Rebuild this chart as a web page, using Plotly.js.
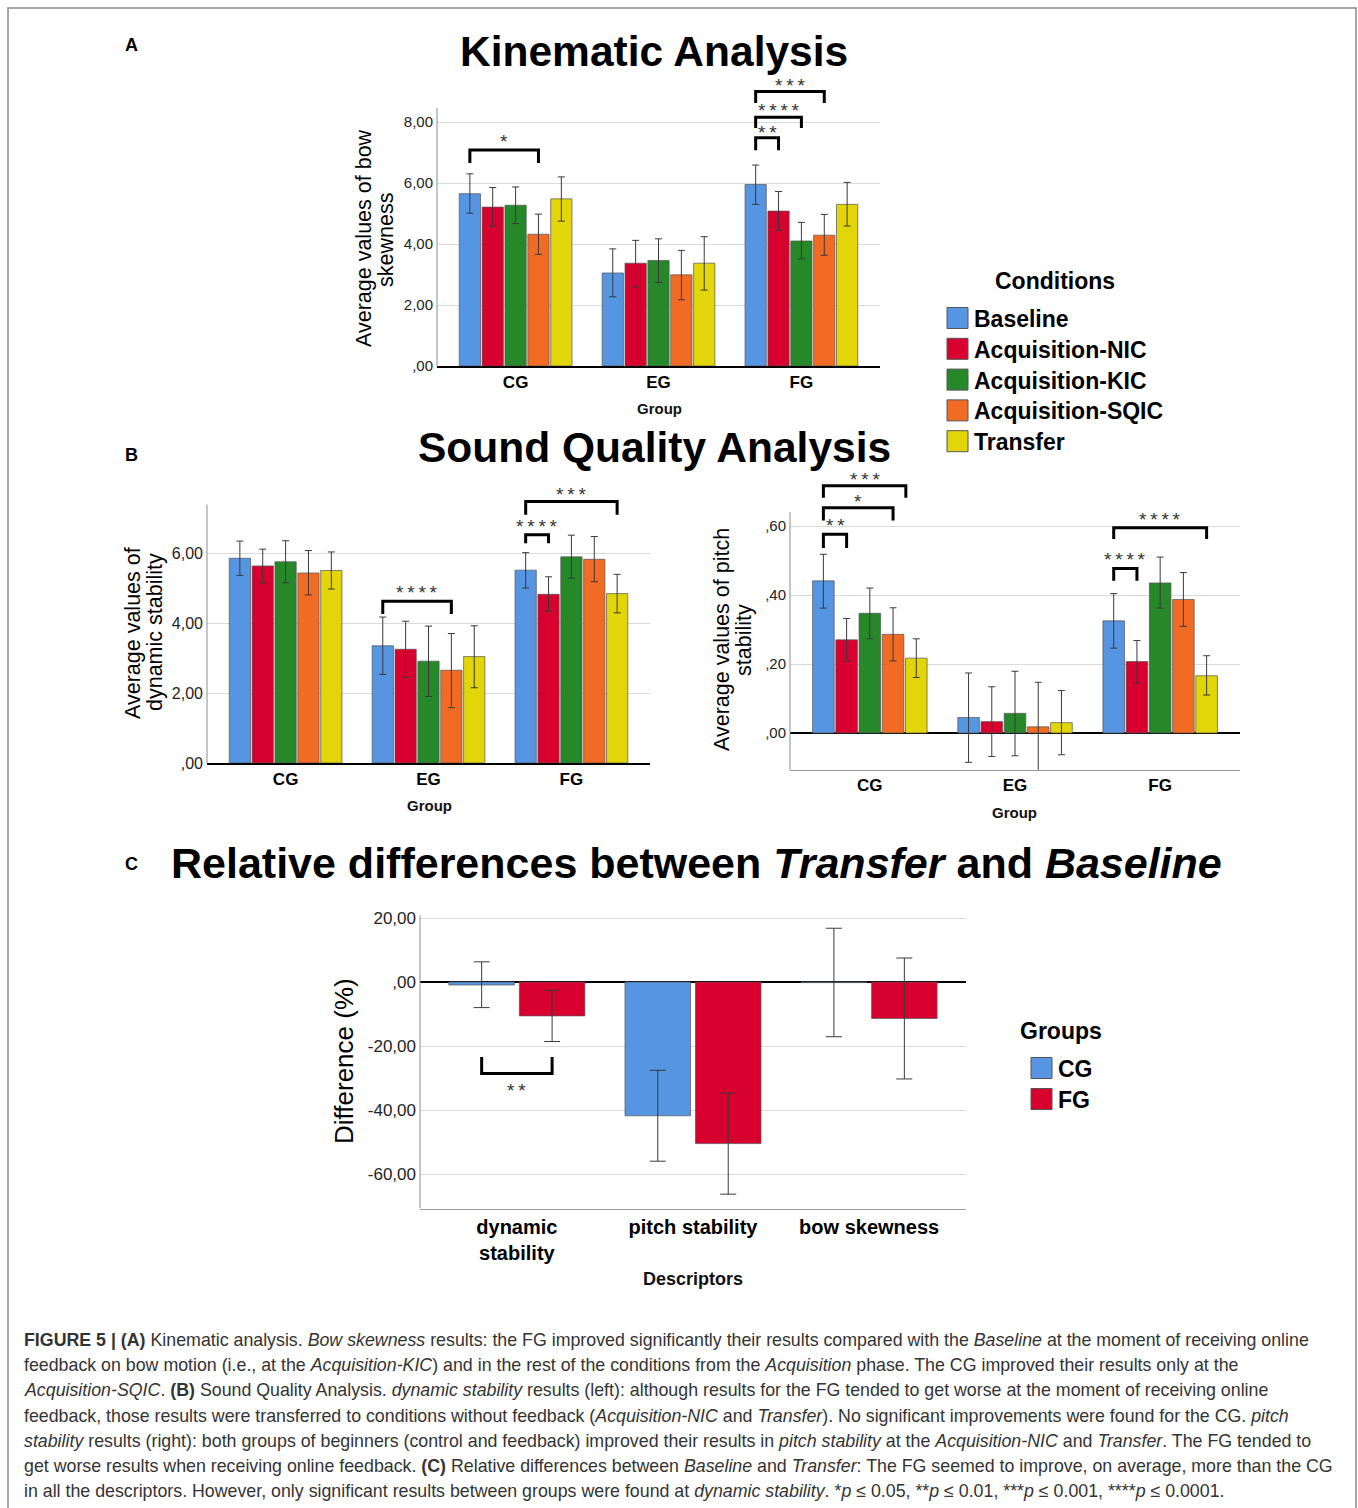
<!DOCTYPE html>
<html><head><meta charset="utf-8">
<script src="https://cdn.plot.ly/plotly-3.0.1.min.js"></script>
<style>html,body{margin:0;padding:0;background:#fff}</style>
</head><body><div id="chart" style="width:1358px;height:1508px"></div>
<script>
// ---------------- DATA ----------------
const groups = ['CG', 'EG', 'FG'];
const conditions = ['Baseline', 'Acquisition-NIC', 'Acquisition-KIC', 'Acquisition-SQIC', 'Transfer'];

// (A) bow skewness: rows = conditions, cols = groups
const bowMean = [[5.65, 3.05, 5.95], [5.21, 3.37, 5.08], [5.27, 3.46, 4.10], [4.32, 2.99, 4.29], [5.48, 3.37, 5.30]];
const bowHi   = [[6.30, 3.84, 6.59], [5.85, 4.12, 5.72], [5.87, 4.17, 4.71], [4.98, 3.79, 4.97], [6.20, 4.24, 6.02]];
const bowLo   = [[5.01, 2.27, 5.30], [4.58, 2.59, 4.45], [4.67, 2.74, 3.51], [3.66, 2.17, 3.63], [4.75, 2.49, 4.59]];
const bowTickVals = [0, 2, 4, 6, 8];
const bowTickText = [',00', '2,00', '4,00', '6,00', '8,00'];

// (B left) dynamic stability
const dynMean = [[5.85, 3.35, 5.51], [5.63, 3.25, 4.82], [5.75, 2.91, 5.89], [5.43, 2.65, 5.82], [5.50, 3.04, 4.84]];
const dynHi   = [[6.34, 4.17, 6.01], [6.11, 4.05, 5.32], [6.35, 3.91, 6.51], [6.07, 3.70, 6.47], [6.03, 3.92, 5.39]];
const dynLo   = [[5.36, 2.53, 5.00], [5.14, 2.45, 4.33], [5.15, 1.90, 5.28], [4.80, 1.58, 5.18], [4.97, 2.15, 4.29]];
const dynTickVals = [0, 2, 4, 6];
const dynTickText = [',00', '2,00', '4,00', '6,00'];

// (B right) pitch stability
const pitchMean = [[0.441, 0.045, 0.325], [0.270, 0.033, 0.207], [0.347, 0.057, 0.435], [0.286, 0.018, 0.387], [0.217, 0.030, 0.166]];
const pitchHi   = [[0.518, 0.174, 0.404], [0.332, 0.134, 0.268], [0.420, 0.179, 0.510], [0.363, 0.147, 0.465], [0.273, 0.123, 0.224]];
const pitchLo   = [[0.362, -0.085, 0.246], [0.209, -0.068, 0.145], [0.273, -0.066, 0.362], [0.209, -0.110, 0.309], [0.161, -0.063, 0.110]];
const pitchTickVals = [0, 0.2, 0.4, 0.6];
const pitchTickText = [',00', ',20', ',40', ',60'];

// (C) relative differences Transfer vs Baseline (%)
const descriptors = ['dynamic<br>stability', 'pitch stability', 'bow skewness'];
const diffGroups = ['CG', 'FG'];
const diffMean = [[-0.94, -41.8, -0.2], [-10.6, -50.5, -11.4]];
const diffHi   = [[6.3, -27.6, 16.8], [-2.6, -34.7, 7.5]];
const diffLo   = [[-8.0, -56.0, -17.1], [-18.6, -66.3, -30.3]];
const diffTickVals = [-60, -40, -20, 0, 20];
const diffTickText = ['-60,00', '-40,00', '-20,00', ',00', '20,00'];

// significance brackets: [group, fromCond, toCond, barValue, legValue, label, labelValue]
const sigA  = [[0, 0, 3, 7.08, 6.66, '*', 7.48], [2, 0, 1, 7.48, 7.07, '**', 7.78], [2, 0, 2, 8.16, 7.80, '****', 8.51], [2, 0, 3, 9.00, 8.62, '***', 9.33]];
const sigBL = [[1, 0, 3, 4.62, 4.26, '****', 4.99], [2, 0, 1, 6.52, 6.28, '****', 6.86], [2, 0, 4, 7.47, 7.09, '***', 7.79]];
const sigBR = [[0, 0, 1, 0.576, 0.536, '**', 0.612], [0, 0, 3, 0.653, 0.616, '*', 0.682], [0, 0, 3.55, 0.717, 0.682, '***', 0.746],
               [2, 0, 1, 0.477, 0.441, '****', 0.515], [2, 0, 4, 0.595, 0.562, '****', 0.631]];
const sigC  = [[0, 0, 1, -28.6, -23.4, '**', -32.6]];

const captionLines = [
  '<b>FIGURE 5 | (A)</b> Kinematic analysis. <i>Bow skewness</i> results: the FG improved significantly their results compared with the <i>Baseline</i> at the moment of receiving online',
  'feedback on bow motion (i.e., at the <i>Acquisition-KIC</i>) and in the rest of the conditions from the <i>Acquisition</i> phase. The CG improved their results only at the',
  '<i>Acquisition-SQIC</i>. <b>(B)</b> Sound Quality Analysis. <i>dynamic stability</i> results (left): although results for the FG tended to get worse at the moment of receiving online',
  'feedback, those results were transferred to conditions without feedback (<i>Acquisition-NIC</i> and <i>Transfer</i>). No significant improvements were found for the CG. <i>pitch</i>',
  '<i>stability</i> results (right): both groups of beginners (control and feedback) improved their results in <i>pitch stability</i> at the <i>Acquisition-NIC</i> and <i>Transfer</i>. The FG tended to',
  'get worse results when receiving online feedback. <b>(C)</b> Relative differences between <i>Baseline</i> and <i>Transfer</i>: The FG seemed to improve, on average, more than the CG',
  'in all the descriptors. However, only significant results between groups were found at <i>dynamic stability</i>. *<i>p</i> ≤ 0.05, **<i>p</i> ≤ 0.01, ***<i>p</i> ≤ 0.001, ****<i>p</i> ≤ 0.0001.'
];

// ---------------- STYLE ----------------
const condColors = ['#5595e2', '#d7002f', '#27882a', '#f16b25', '#e2d50a'];
const groupColors = ['#5595e2', '#d7002f'];
const FONT = '"Liberation Sans", Arial, sans-serif';
const W = 1358, H = 1508;
const BARGAP = 0.2, BARGROUPGAP = 0.07;
const px = x => x / W;
const py = y => 1 - y / H;

// panel geometry in pixels
const G = {
  A:  {l: 437, r: 880, zero: 366, ppu: 30.5, range: [0, 9.55], axisTop: 8.46},
  BL: {l: 207, r: 650, zero: 763, ppu: 35, range: [0, 8.0], axisTop: 7.38},
  BR: {l: 790, r: 1240, zero: 733, ppu: 345, range: [-0.107, 0.77], axisTop: 0.64},
  C:  {l: 420, r: 966, zero: 982, ppu: 3.2, range: [-70.8, 21], axisTop: 20.8}
};
function yDomain(g) {
  const top = g.zero - g.range[1] * g.ppu;
  const bot = g.zero - g.range[0] * g.ppu;
  return [py(bot), py(top)];
}

const traces = [];
function addBars(means, his, los, names, colors, xa, ya, capW) {
  means.forEach((m, k) => {
    traces.push({
      type: 'bar', name: names[k], x: m.map((_, i) => i), y: m,
      xaxis: xa, yaxis: ya,
      marker: {color: colors[k], line: {color: '#555', width: 0.7}},
      error_y: {type: 'data', symmetric: false,
                array: m.map((v, i) => his[k][i] - v),
                arrayminus: m.map((v, i) => v - los[k][i]),
                color: '#3a3a3a', thickness: 1, width: capW},
      showlegend: false, hoverinfo: 'skip'
    });
  });
}
addBars(bowMean, bowHi, bowLo, conditions, condColors, 'x', 'y', 3.5);
addBars(dynMean, dynHi, dynLo, conditions, condColors, 'x2', 'y2', 3.5);
addBars(pitchMean, pitchHi, pitchLo, conditions, condColors, 'x3', 'y3', 3.5);
addBars(diffMean, diffHi, diffLo, diffGroups, groupColors, 'x4', 'y4', 8);

function xAxis(g, anchor, ticktext, size, lineColor, lineWidth) {
  return {domain: [px(g.l), px(g.r)], range: [-0.55, 2.55], anchor: anchor,
          tickvals: [0, 1, 2], ticktext: ticktext, ticks: '', showgrid: false, zeroline: false,
          showline: true, linecolor: lineColor, linewidth: lineWidth,
          tickfont: {size: size, weight: 'bold', color: '#000'}, fixedrange: true};
}
function yAxis(g, anchor, vals, text, size, zl) {
  return {domain: yDomain(g), range: g.range, anchor: anchor,
          tickvals: vals, ticktext: text, ticks: '', showline: false,
          showgrid: true, gridcolor: '#d9d9d9', gridwidth: 1, ticklabelstandoff: 3,
          zeroline: zl, zerolinecolor: '#000', zerolinewidth: 2,
          tickfont: {size: size, color: '#222'}, fixedrange: true};
}

const shapes = [];
const annotations = [];

// frame
shapes.push({type: 'path', xref: 'paper', yref: 'paper',
  path: `M ${px(8)},${py(1508)} L ${px(8)},${py(8)} L ${px(1356)},${py(8)} L ${px(1356)},${py(1508)}`,
  line: {color: '#8a8a8a', width: 1.5}});

// y-axis lines
[['A', ''], ['BL', '2'], ['BR', '3'], ['C', '4']].forEach(([k, s]) => {
  shapes.push({type: 'line', xref: 'x' + s + ' domain', yref: 'y' + s, x0: 0, x1: 0,
               y0: G[k].range[0], y1: G[k].axisTop, line: {color: '#8c8c8c', width: 1}});
});

// bracket helper
function barCenter(i, k, n) { const slot = (1 - BARGAP) / n; return i - (1 - BARGAP) / 2 + slot * (k + 0.5); }
function addSig(list, s, n) {
  list.forEach(([gi, a, b, top, leg, label, ly]) => {
    const xa = barCenter(gi, a, n), xb = barCenter(gi, b, n);
    shapes.push({type: 'path', xref: 'x' + s, yref: 'y' + s,
      path: `M ${xa},${leg} L ${xa},${top} L ${xb},${top} L ${xb},${leg}`,
      line: {color: '#000', width: 3}});
    annotations.push({text: label.split('').join('\u2009'), xref: 'x' + s, yref: 'y' + s, x: (xa + xb) / 2, y: ly,
      showarrow: false, xanchor: 'center', yanchor: 'middle', yshift: -4,
      font: {family: FONT, size: 19, color: '#333'}});
  });
}
addSig(sigA, '', 5);
addSig(sigBL, '2', 5);
addSig(sigBR, '3', 5);
addSig(sigC, '4', 2);

function txt(text, x, y, size, o) {
  annotations.push(Object.assign({text: text, xref: 'paper', yref: 'paper', x: px(x), y: py(y),
    showarrow: false, xanchor: 'center', yanchor: 'middle',
    font: {family: FONT, size: size, color: '#000'}}, o || {}));
}
function bold(size, color) { return {family: FONT, size: size, color: color || '#000', weight: 'bold'}; }

// panel letters & titles
txt('A', 131, 45, 18, {font: bold(18)});
txt('B', 131, 455, 18, {font: bold(18)});
txt('C', 131, 864, 18, {font: bold(18)});
txt('Kinematic Analysis', 654, 52, 42.5, {font: bold(42.5)});
txt('Sound Quality Analysis', 654, 447, 42.5, {font: bold(42.5)});
txt('Relative differences between <i>Transfer</i> and <i>Baseline</i>', 697, 863, 43, {font: bold(43)});

// axis titles
const yt = {textangle: -90};
txt('Average values of bow', 364, 238, 21.5, yt);
txt('skewness', 386, 240, 21.5, yt);
txt('Average values of', 133, 633, 21.5, yt);
txt('dynamic stability', 155, 632, 21.5, yt);
txt('Average values of pitch', 722, 640, 21.5, yt);
txt('stability', 744, 640, 21.5, yt);
txt('Difference (%)', 344, 1061, 26, yt);
txt('Group', 659, 409, 15, {font: bold(15, '#111')});
txt('Group', 429, 805, 15, {font: bold(15, '#111')});
txt('Group', 1014, 812, 15, {font: bold(15, '#111')});
txt('Descriptors', 693, 1279, 18, {font: bold(18, '#111')});

// legends
txt('Conditions', 1055, 281, 23, {font: bold(23)});
conditions.forEach((c, k) => {
  const yc = 318 + k * 30.8;
  shapes.push({type: 'rect', xref: 'paper', yref: 'paper', x0: px(947), x1: px(968), y0: py(yc + 10.5), y1: py(yc - 10.5),
               fillcolor: condColors[k], line: {color: '#555', width: 1}});
  txt(c, 972, yc + 1, 23, {xanchor: 'left', font: bold(23)});
});
txt('Groups', 1061, 1031, 23, {font: bold(23)});
diffGroups.forEach((c, k) => {
  const yc = 1068 + k * 31;
  shapes.push({type: 'rect', xref: 'paper', yref: 'paper', x0: px(1031), x1: px(1052), y0: py(yc + 10.5), y1: py(yc - 10.5),
               fillcolor: groupColors[k], line: {color: '#555', width: 1}});
  txt(c, 1056, yc + 1, 23, {xanchor: 'left', font: bold(23)});
});

// caption
captionLines.forEach((line, i) => {
  txt(line, 22, 1340 + i * 25.2, 17.8, {xanchor: 'left', font: {family: FONT, size: 17.8, color: '#333'}});
});

const layout = {
  width: W, height: H, margin: {l: 0, r: 0, t: 0, b: 0},
  paper_bgcolor: '#fff', plot_bgcolor: 'rgba(0,0,0,0)',
  barmode: 'group', bargap: BARGAP, bargroupgap: BARGROUPGAP, showlegend: false,
  font: {family: FONT, color: '#000'},
  xaxis:  xAxis(G.A, 'y', groups, 17, '#000', 2),
  yaxis:  yAxis(G.A, 'x', bowTickVals, bowTickText, 15, false),
  xaxis2: xAxis(G.BL, 'y2', groups, 17, '#000', 2),
  yaxis2: yAxis(G.BL, 'x2', dynTickVals, dynTickText, 16, false),
  xaxis3: xAxis(G.BR, 'y3', groups, 17, '#9a9a9a', 1),
  yaxis3: yAxis(G.BR, 'x3', pitchTickVals, pitchTickText, 15, true),
  xaxis4: xAxis(G.C, 'y4', descriptors, 20, '#9a9a9a', 1),
  yaxis4: yAxis(G.C, 'x4', diffTickVals, diffTickText, 17, true),
  shapes: shapes, annotations: annotations
};

Plotly.newPlot('chart', traces, layout, {staticPlot: true, displayModeBar: false});
</script></body></html>
